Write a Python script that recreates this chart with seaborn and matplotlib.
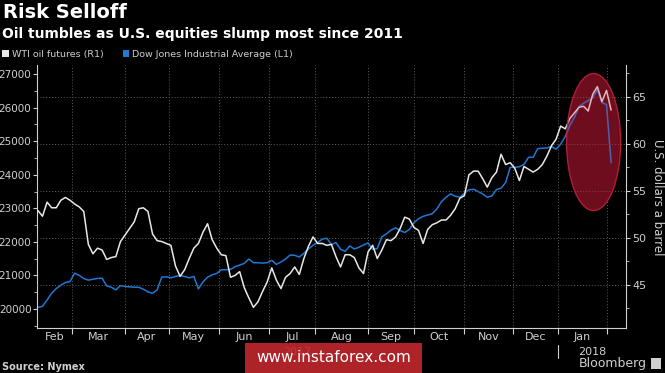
"""Risk Selloff: WTI oil vs Dow Jones, Bloomberg-style dark chart."""
import numpy as np
import pandas as pd
import matplotlib
matplotlib.use("Agg")
import matplotlib.pyplot as plt
import matplotlib.transforms as mtrans
from matplotlib.patches import Ellipse, Patch, Rectangle
from matplotlib.ticker import FixedLocator, FixedFormatter, MultipleLocator, NullFormatter, StrMethodFormatter
import seaborn as sns

# trading-day axis (NYSE calendar), one reading every second session
START, END = "2017-02-07", "2018-02-05"
NYSE_HOLIDAYS = ["2017-02-20", "2017-04-14", "2017-05-29", "2017-07-04", "2017-09-04",
                 "2017-11-23", "2017-12-25", "2018-01-01", "2018-01-15"]
STEP = 2

wti = [52.9, 52.3, 53.8, 53.2, 53.2, 54.0, 54.3, 54.0, 53.6, 53.3,
       52.8, 49.3, 48.3, 48.9, 48.7, 47.7, 47.9, 48.0, 49.6, 50.3,
       51.0, 51.7, 53.1, 53.2, 52.8, 50.4, 49.7, 49.6, 49.4, 49.2,
       47.0, 45.9, 46.6, 47.8, 48.9, 49.4, 50.6, 51.5, 49.8, 48.9,
       48.2, 48.1, 45.8, 46.0, 46.4, 44.7, 43.6, 42.6, 43.2, 44.3,
       45.3, 46.8, 45.5, 44.6, 45.8, 46.2, 46.9, 46.1, 47.8, 49.1,
       50.1, 49.4, 49.4, 49.2, 49.3, 48.0, 46.9, 48.2, 48.2, 47.9,
       46.8, 46.2, 48.5, 49.2, 47.8, 48.7, 49.8, 49.7, 50.1, 51.0,
       52.2, 52.0, 51.1, 50.8, 49.4, 50.9, 51.4, 51.6, 51.9, 51.9,
       52.4, 53.1, 54.2, 54.5, 56.7, 57.1, 57.1, 56.3, 55.4, 56.4,
       57.0, 58.9, 57.8, 58.0, 57.4, 56.1, 57.6, 57.3, 57.0, 57.3,
       57.8, 58.7, 59.8, 60.5, 61.9, 61.6, 62.7, 63.3, 63.9, 64.0,
       63.5, 65.3, 66.1, 64.5, 65.7, 63.6]

dow = [20050, 20080, 20270, 20470, 20610, 20710, 20790, 20820, 21070, 21000,
       20910, 20860, 20890, 20910, 20920, 20690, 20650, 20570, 20700, 20670,
       20660, 20650, 20650, 20590, 20510, 20470, 20570, 20950, 20960, 20930,
       20970, 21000, 20970, 20930, 20970, 20600, 20810, 20950, 21020, 21060,
       21170, 21170, 21180, 21260, 21310, 21360, 21490, 21380, 21380, 21370,
       21380, 21450, 21330, 21400, 21490, 21610, 21600, 21550, 21660, 21790,
       21900, 21980, 22080, 22110, 21920, 21980, 21780, 21720, 21880, 21790,
       21840, 21910, 21970, 21780, 21800, 22150, 22240, 22350, 22420, 22340,
       22280, 22370, 22570, 22690, 22760, 22800, 22840, 22980, 23200, 23330,
       23430, 23360, 23330, 23450, 23550, 23570, 23500, 23430, 23330, 23370,
       23560, 23600, 23770, 24220, 24220, 24240, 24310, 24520, 24520, 24780,
       24790, 24800, 24840, 24760, 24910, 25140, 25470, 25710, 26030, 26130,
       26210, 26290, 26540, 26150, 26090, 24360]

DOW_TICKS = list(range(20000, 27001, 1000))
WTI_TICKS = [45, 50, 55, 60, 65]

BG, FG, GRID = "black", "#d0d0d0", "#5c5c5c"
BLUE, WHITE = "#1f78d4", "#e8e8e8"
W, H = 665, 373
OVAL = dict(xy=(0.945, 0.707), width=0.0917, height=0.521)  # axes fraction


def main():
    sns.set_theme(style="ticks", rc={"figure.facecolor": BG, "axes.facecolor": BG, "savefig.facecolor": BG,
                                     "axes.edgecolor": FG, "text.color": FG, "xtick.color": FG,
                                     "ytick.color": FG, "axes.labelcolor": FG})
    plt.rcParams["font.family"] = ["DejaVu Sans"]

    days = pd.bdate_range(START, END, freq="C", holidays=NYSE_HOLIDAYS)
    pos = np.arange(len(days))
    df = pd.DataFrame({"pos": pos[::STEP], "date": days[::STEP], "wti": wti, "dow": dow})

    fig = plt.figure(figsize=(W / 100, H / 100), dpi=100)
    ax = fig.add_axes([37 / W, 45 / H, 589 / W, 263 / H])
    ax2 = ax.twinx()
    sns.lineplot(data=df, x="pos", y="dow", ax=ax, color=BLUE, lw=1.1)
    sns.lineplot(data=df, x="pos", y="wti", ax=ax2, color=WHITE, lw=1.1)
    for a in (ax, ax2):
        a.set_xlabel(""); a.set_ylabel("")

    # month boundaries / labels
    x0, x1 = -0.4, 256.5
    ax.set_xlim(x0, x1)
    new_month = np.r_[False, days.month[1:] != days.month[:-1]]
    starts = pos[new_month]
    edges = np.r_[x0, starts]
    centers = (edges[:-1] + edges[1:]) / 2
    names = [days[0].strftime("%b")] + [days[s].strftime("%b") for s in starts[:-1]]
    ax.xaxis.set_major_locator(FixedLocator(starts))
    ax.xaxis.set_major_formatter(NullFormatter())
    ax.xaxis.set_minor_locator(FixedLocator(centers))
    ax.xaxis.set_minor_formatter(FixedFormatter(names))
    ax.tick_params(axis="x", which="major", length=4, width=0.8, color=FG)
    ax.tick_params(axis="x", which="minor", length=0, pad=3, labelsize=8, labelcolor=FG)
    ax.grid(axis="x", which="major", color=GRID, ls=(0, (1, 2)), lw=0.7)

    ax.set_ylim(19435, 27270)
    ax.yaxis.set_major_locator(FixedLocator(DOW_TICKS))
    ax.yaxis.set_minor_locator(MultipleLocator(500))
    ax.yaxis.set_major_formatter(StrMethodFormatter("{x:.0f}"))
    ax.tick_params(axis="y", which="major", length=3, width=0.8, pad=1, labelsize=7.5, labelcolor=FG)
    ax.tick_params(axis="y", which="minor", length=2, width=0.6)

    ax2.set_ylim(40.4, 68.4)
    ax2.yaxis.set_major_locator(FixedLocator(WTI_TICKS))
    ax2.yaxis.set_minor_locator(MultipleLocator(2.5))
    ax2.yaxis.set_major_formatter(StrMethodFormatter("{x:.0f}"))
    ax2.tick_params(axis="y", which="major", length=3, width=0.8, pad=1.5, labelsize=8, labelcolor=FG)
    ax2.tick_params(axis="y", which="minor", length=2, width=0.6)
    ax2.grid(axis="y", which="major", color=GRID, ls=(0, (1, 2)), lw=0.7)
    ax2.set_axisbelow(True)

    for s in ("top", "right"):
        ax.spines[s].set_visible(False)
    for s in ("top", "left", "bottom"):
        ax2.spines[s].set_visible(False)
    for a, s in ((ax, "left"), (ax, "bottom"), (ax2, "right")):
        a.spines[s].set_color(FG); a.spines[s].set_linewidth(0.8)

    # highlight of the January selloff: dark fill under the lines, light red tint over them
    ax.add_patch(Ellipse(**OVAL, transform=ax.transAxes, fc="#4a0812", ec="none", zorder=0.8))
    ax2.add_patch(Ellipse(**OVAL, transform=ax2.transAxes, fc=(0.85, 0.12, 0.25, 0.25),
                          ec=(0.72, 0.12, 0.22, 0.95), lw=1.0, zorder=5))

    # year labels
    jan = starts[days[starts].year == 2018][0]
    trans = mtrans.blended_transform_factory(ax.transData, ax.transAxes)
    ax.text((x0 + jan) / 2, -0.091, "2017", transform=trans, ha="center", va="center", fontsize=8, color=FG)
    ax.text((jan + x1) / 2, -0.091, "2018", transform=trans, ha="center", va="center", fontsize=8, color=FG)
    ax.plot([jan, jan], [-0.065, -0.115], transform=trans, color=FG, lw=0.8, clip_on=False)

    fig.text(3 / W, 1 - 13 / H, "Risk Selloff", va="center", fontsize=14, weight="bold", color="white")
    fig.text(2 / W, 1 - 34 / H, "Oil tumbles as U.S. equities slump most since 2011", va="center",
             fontsize=10, weight="bold", color="white")
    handles = [Patch(fc=WHITE, ec="none", label="WTI oil futures (R1)"),
               Patch(fc=BLUE, ec="none", label="Dow Jones Industrial Average (L1)")]
    fig.legend(handles=handles, loc="upper left", bbox_to_anchor=(2 / W, 1 - 50 / H), ncol=2, frameon=False,
               fontsize=6.8, handlelength=0.7, handleheight=0.7, handletextpad=0.35, columnspacing=2.0,
               borderpad=0, borderaxespad=0, labelcolor=FG)
    fig.text(657 / W, 1 - 197 / H, "U.S. dollars a barrel", rotation=270, ha="center", va="center",
             fontsize=8.5, color=FG)
    fig.text(2 / W, 1 - 367 / H, "Source: Nymex", va="center", fontsize=7, weight="bold", color=FG)
    fig.text(647 / W, 1 - 364 / H, "Bloomberg", ha="right", va="center", fontsize=9, color=FG)
    fig.add_artist(Rectangle((651 / W, 1 - 369 / H), 10 / W, 11 / H, transform=fig.transFigure, fc=FG, ec="none"))

    # site watermark over the year label
    fig.add_artist(Rectangle((245 / W, 0), 177 / W, 30 / H, transform=fig.transFigure,
                             fc="#c1272d", ec="none", alpha=0.9, zorder=4))
    fig.text(333.5 / W, 15 / H, "www.instaforex.com", ha="center", va="center", fontsize=11,
             color="white", zorder=5)

    fig.savefig("out.png", dpi=100, facecolor=BG)


if __name__ == "__main__":
    main()
